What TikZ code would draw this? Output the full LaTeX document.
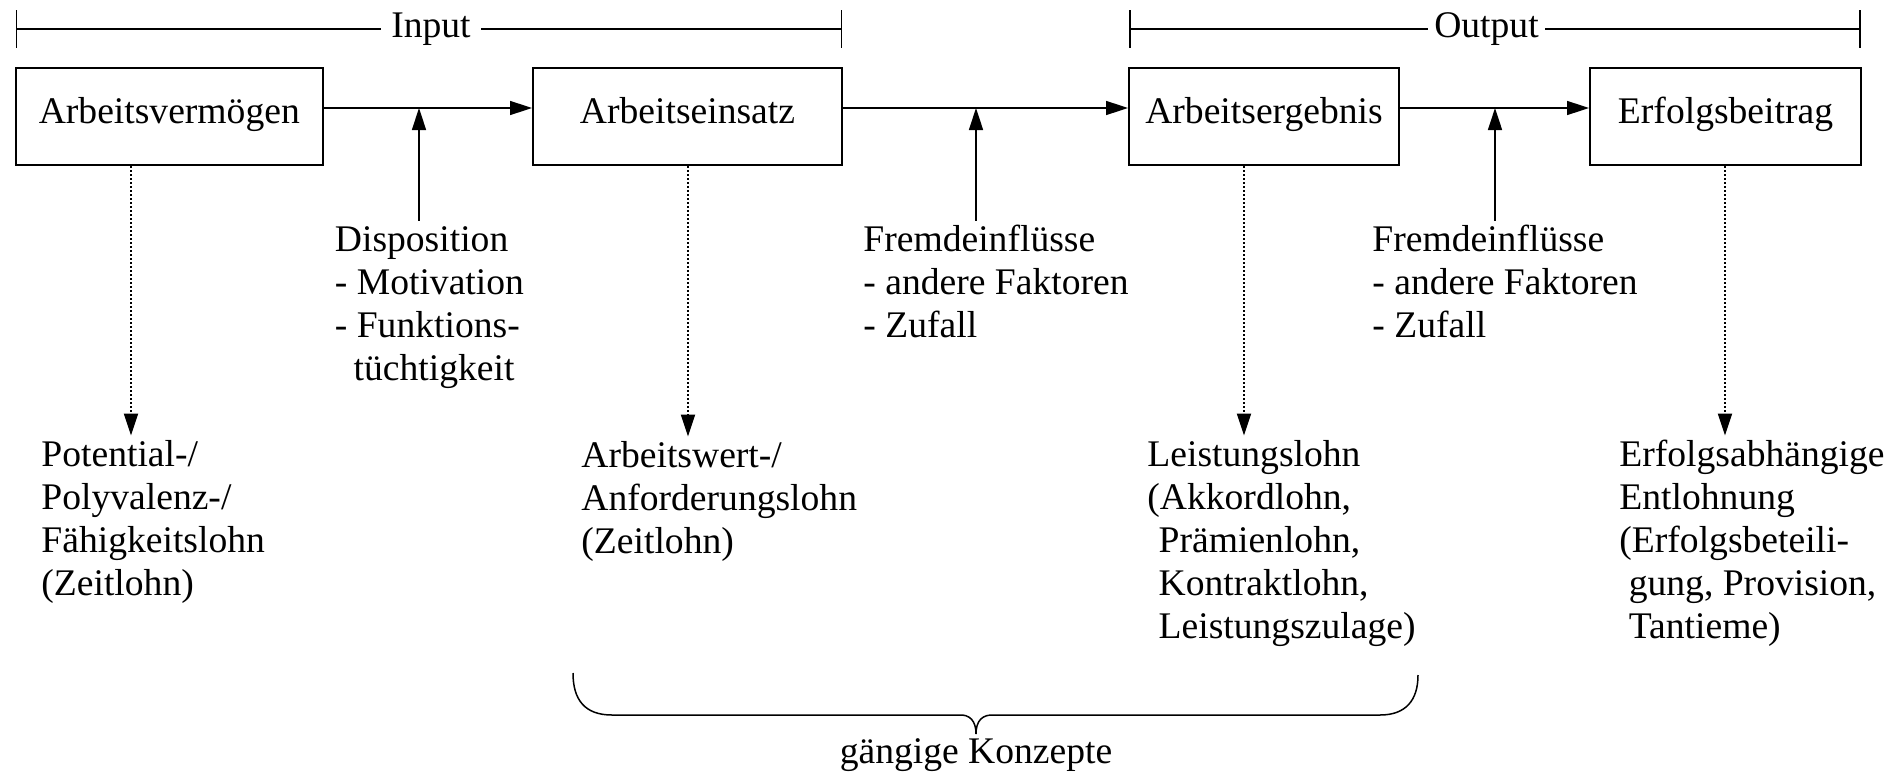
\documentclass[tikz,border=0pt]{standalone}
\usepackage{fontspec}
\setmainfont{Liberation Serif}
\usetikzlibrary{arrows.meta}
\begin{document}
\begin{tikzpicture}[x=0.5pt,y=-0.5pt,
  every node/.style={font=\fontsize{18.8}{21.5}\selectfont, inner sep=0pt},
  box/.style={draw, line width=1pt, minimum height=48.5pt, text height=11.2pt, text depth=4.7pt},
  flow/.style={line width=0.75pt, -{Triangle[length=11pt,width=7pt]}},
  dotflow/.style={line width=1pt, dash pattern=on 1pt off 1pt, -{Triangle[length=11pt,width=7pt]}},
  bar/.style={line width=0.7pt},
  lbl/.style={anchor=base west}]
\useasboundingbox (0,0) rectangle (1899,776);

% Input / Output bars
\node[anchor=base, inner xsep=5pt] (inp) at (431,37) {Input};
\node[anchor=base, inner xsep=3pt] (outp) at (1486.5,37) {Output};
\coordinate (inL) at (16.5,29);
\coordinate (inR) at (841.5,29);
\coordinate (outL) at (1130,29);
\coordinate (outR) at (1860,29);
\draw[bar] (16.5,10) -- (16.5,48);
\draw[bar] (841.5,10) -- (841.5,48);
\draw[bar] (1130,10) -- (1130,48);
\draw[bar] (1860,10) -- (1860,48);
\draw[bar] (inL) -- (inL -| inp.west);
\draw[bar] (inp.east |- inR) -- (inR);
\draw[bar] (outL) -- (outL -| outp.west);
\draw[bar] (outp.east |- outR) -- (outR);

% Boxes
\node[box, minimum width=153.7pt] (b1) at (169.3,116.5) {Arbeitsvermögen};
\node[box, minimum width=154.5pt] (b2) at (687.5,116.5) {Arbeitseinsatz};
\node[box, minimum width=135pt] (b3) at (1264,116.5) {Arbeitsergebnis};
\node[box, minimum width=135.5pt] (b4) at (1725.5,116.5) {Erfolgsbeitrag};

\coordinate (ay) at (0,108);
\draw[flow] (b1.east |- ay) -- (b2.west |- ay);
\draw[flow] (b2.east |- ay) -- (b3.west |- ay);
\draw[flow] (b3.east |- ay) -- (b4.west |- ay);

% Influences
\node[lbl] (disp) at (334.5,251) {\begin{tabular}[t]{@{}l@{}}Disposition\\- Motivation\\- Funktions-\\\hspace*{0.5em}tüchtigkeit\end{tabular}};
\node[lbl] (frem1) at (863,251) {\begin{tabular}[t]{@{}l@{}}Fremdeinflüsse\\- andere Faktoren\\- Zufall\end{tabular}};
\node[lbl] (frem2) at (1372,251) {\begin{tabular}[t]{@{}l@{}}Fremdeinflüsse\\- andere Faktoren\\- Zufall\end{tabular}};

\coordinate (v1) at (419,108);
\coordinate (v2) at (976,108);
\coordinate (v3) at (1495,108);
\draw[flow] (disp.north -| v1) -- (v1);
\draw[flow] (frem1.north -| v2) -- (v2);
\draw[flow] (frem2.north -| v3) -- (v3);

% Wage concepts
\node[lbl] (pot) at (41,466) {\begin{tabular}[t]{@{}l@{}}Potential-/\\Polyvalenz-/\\Fähigkeitslohn\\(Zeitlohn)\end{tabular}};
\node[lbl] (aw) at (581,467) {\begin{tabular}[t]{@{}l@{}}Arbeitswert-/\\Anforderungslohn\\(Zeitlohn)\end{tabular}};
\node[lbl] (ll) at (1147,466) {\begin{tabular}[t]{@{}l@{}}Leistungslohn\\(Akkordlohn,\\\hspace*{0.3em}Prämienlohn,\\\hspace*{0.3em}Kontraktlohn,\\\hspace*{0.3em}Leistungszulage)\end{tabular}};
\node[lbl] (eb) at (1619,466) {\begin{tabular}[t]{@{}l@{}}Erfolgsabhängige\\Entlohnung\\(Erfolgsbeteili-\\\hspace*{0.25em}gung, Provision,\\\hspace*{0.25em}Tantieme)\end{tabular}};

\coordinate (d1) at (131,0);
\coordinate (d2) at (688,0);
\coordinate (d3) at (1244,0);
\coordinate (d4) at (1725,0);
\draw[dotflow] (b1.south -| d1) -- (pot.north -| d1);
\draw[dotflow] (b2.south -| d2) -- (aw.north -| d2);
\draw[dotflow] (b3.south -| d3) -- (ll.north -| d3);
\draw[dotflow] (b4.south -| d4) -- (eb.north -| d4);

% Brace
\draw[line width=0.75pt] (573,673) .. controls (573,700) and (585,715) .. (612,715)
  -- (958,715) .. controls (970,714) and (976,721) .. (976,734)
  .. controls (976,721) and (982,714) .. (995,715)
  -- (1380,715) .. controls (1406,715) and (1418,700) .. (1418,675);
\node[anchor=base] (gk) at (976,763) {gängige Konzepte};
\end{tikzpicture}
\end{document}
